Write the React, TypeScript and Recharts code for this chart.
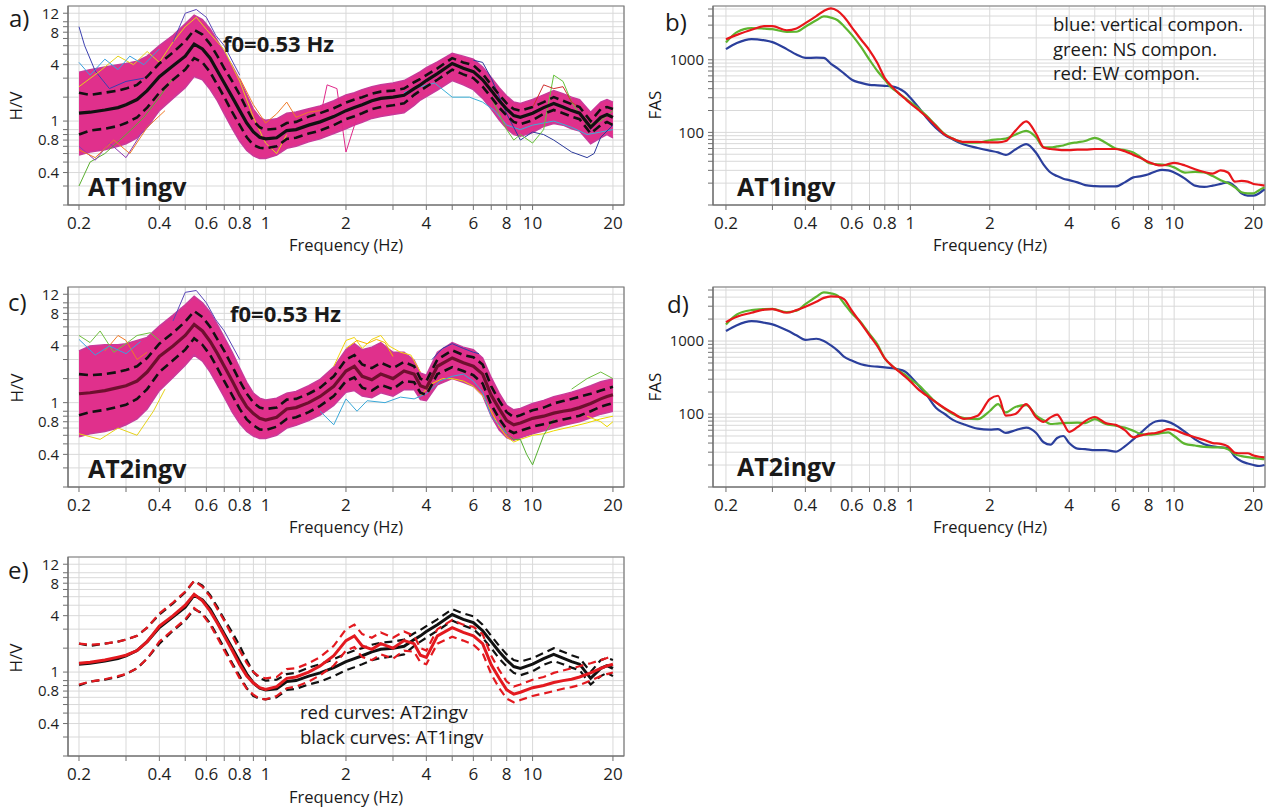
import React from 'react';
import { ComposedChart, Line, Area, XAxis, YAxis, CartesianGrid, ReferenceArea } from 'recharts';

// ---------- H/V data (frequency grid, Hz) ----------
const FREQ_HV = [0.2, 0.22, 0.25, 0.28, 0.3, 0.33, 0.36, 0.4, 0.45, 0.5,
  0.54, 0.58, 0.62, 0.66, 0.7, 0.75, 0.8, 0.85, 0.9, 0.95,
  1.0, 1.1, 1.2, 1.3, 1.45, 1.6, 1.8, 2.0, 2.15, 2.3,
  2.5, 2.7, 3.0, 3.3, 3.6, 3.8, 4.0, 4.4, 5.0, 5.5,
  6.0, 6.5, 7.0, 7.5, 8.0, 8.5, 9.0, 10, 11, 12,
  13, 14, 15, 16.5, 18, 19, 20];

// AT1ingv
const AT1_MEAN = [1.42, 1.45, 1.52, 1.6, 1.7, 1.9, 2.3, 3.1, 3.9, 4.8,
  6.2, 5.6, 4.6, 3.5, 2.7, 2.0, 1.5, 1.15, 0.95, 0.85,
  0.82, 0.84, 0.98, 1.0, 1.1, 1.18, 1.32, 1.5, 1.6, 1.7,
  1.85, 1.95, 2.0, 2.08, 2.4, 2.6, 2.85, 3.3, 4.1, 3.7,
  3.45, 2.9, 2.3, 1.85, 1.55, 1.35, 1.3, 1.42, 1.6, 1.75,
  1.62, 1.5, 1.42, 1.05, 1.3, 1.38, 1.3];
const AT1_UPPER = [2.2, 2.1, 2.2, 2.3, 2.4, 2.6, 3.1, 4.1, 5.2, 6.6,
  8.4, 7.6, 6.2, 4.8, 3.7, 2.8, 2.1, 1.55, 1.2, 1.05,
  1.0, 1.02, 1.15, 1.18, 1.32, 1.42, 1.58, 1.78, 1.9, 2.0,
  2.15, 2.25, 2.3, 2.4, 2.75, 2.95, 3.2, 3.7, 4.6, 4.2,
  3.95, 3.3, 2.6, 2.1, 1.75, 1.55, 1.5, 1.62, 1.8, 2.0,
  1.85, 1.72, 1.62, 1.2, 1.55, 1.62, 1.55];
const AT1_LOWER = [0.9, 0.98, 1.02, 1.08, 1.15, 1.3, 1.6, 2.2, 2.9, 3.6,
  4.6, 4.2, 3.4, 2.6, 2.0, 1.45, 1.1, 0.85, 0.72, 0.68,
  0.67, 0.7, 0.82, 0.84, 0.92, 0.98, 1.1, 1.25, 1.33, 1.42,
  1.55, 1.62, 1.68, 1.75, 2.1, 2.3, 2.5, 2.9, 3.6, 3.25,
  3.0, 2.5, 2.0, 1.6, 1.35, 1.18, 1.12, 1.22, 1.4, 1.52,
  1.42, 1.32, 1.25, 0.92, 1.1, 1.18, 1.1];
const AT1_BAND_HI = [3.4, 3.6, 3.8, 4.0, 4.1, 4.3, 4.8, 6.0, 7.5, 9.6,
  11.5, 10.5, 8.6, 6.7, 5.2, 3.9, 2.9, 2.1, 1.55, 1.3,
  1.22, 1.26, 1.42, 1.46, 1.56, 1.66, 1.85, 2.1, 2.2, 2.35,
  2.5, 2.6, 2.7, 2.85, 3.2, 3.45, 3.75, 4.25, 5.1, 4.8,
  4.5, 3.8, 3.05, 2.45, 2.05, 1.8, 1.75, 1.9, 2.1, 2.3,
  2.15, 2.0, 1.9, 1.45, 1.8, 1.9, 1.8];
const AT1_BAND_LO = [0.58, 0.62, 0.65, 0.7, 0.74, 0.84, 1.05, 1.5, 1.95, 2.45,
  3.1, 2.9, 2.35, 1.85, 1.4, 1.02, 0.78, 0.64, 0.57, 0.54,
  0.54, 0.58, 0.67, 0.7, 0.77, 0.82, 0.92, 1.02, 1.1, 1.17,
  1.27, 1.32, 1.38, 1.43, 1.68, 1.88, 2.02, 2.33, 2.85, 2.6,
  2.35, 1.95, 1.55, 1.23, 1.02, 0.9, 0.87, 0.94, 1.07, 1.14,
  1.1, 1.02, 0.97, 0.74, 0.84, 0.9, 0.84];

// AT2ingv
const AT2_MEAN = [1.45, 1.48, 1.55, 1.65, 1.72, 1.9, 2.3, 3.2, 4.0, 5.0,
  6.3, 5.5, 4.4, 3.4, 2.6, 1.9, 1.4, 1.1, 0.95, 0.86,
  0.83, 0.88, 1.05, 1.08, 1.2, 1.37, 1.7, 2.35, 2.6, 2.1,
  1.95, 2.2, 2.0, 2.35, 2.2, 1.72, 1.64, 2.6, 3.1, 2.8,
  2.6, 2.2, 1.4, 1.05, 0.82, 0.75, 0.78, 0.86, 0.9, 0.96,
  1.0, 1.03, 1.08, 1.18, 1.3, 1.37, 1.42];
const AT2_UPPER = [2.2, 2.15, 2.2, 2.3, 2.4, 2.6, 3.1, 4.2, 5.3, 6.7,
  8.4, 7.4, 6.0, 4.6, 3.6, 2.6, 1.9, 1.45, 1.2, 1.08,
  1.05, 1.08, 1.28, 1.3, 1.45, 1.65, 2.1, 3.0, 3.3, 2.7,
  2.5, 2.8, 2.5, 2.85, 2.6, 2.0, 1.9, 3.0, 3.65, 3.3,
  3.15, 2.7, 1.7, 1.25, 0.98, 0.88, 0.92, 1.02, 1.08, 1.18,
  1.24, 1.3, 1.36, 1.45, 1.55, 1.62, 1.68];
const AT2_LOWER = [0.92, 0.98, 1.03, 1.1, 1.15, 1.3, 1.6, 2.3, 2.95, 3.7,
  4.7, 4.1, 3.3, 2.5, 1.9, 1.4, 1.05, 0.84, 0.74, 0.68,
  0.67, 0.72, 0.85, 0.88, 0.98, 1.12, 1.38, 1.9, 2.05, 1.65,
  1.55, 1.75, 1.6, 1.9, 1.85, 1.48, 1.42, 2.2, 2.55, 2.35,
  2.15, 1.8, 1.15, 0.85, 0.68, 0.63, 0.66, 0.72, 0.76, 0.8,
  0.84, 0.87, 0.91, 1.0, 1.1, 1.15, 1.19];
const AT2_BAND_HI = [3.6, 4.0, 4.1, 4.1, 4.2, 4.5, 4.8, 6.1, 7.7, 9.6,
  11.5, 10.0, 8.2, 6.3, 4.8, 3.5, 2.5, 1.85, 1.47, 1.32,
  1.27, 1.32, 1.47, 1.52, 1.72, 1.97, 2.55, 3.7, 4.2, 3.7,
  3.9, 4.3, 3.5, 3.5, 2.95, 2.25, 2.15, 3.5, 4.3, 3.9,
  3.7, 3.1, 2.05, 1.47, 1.13, 1.03, 1.06, 1.18, 1.26, 1.36,
  1.43, 1.5, 1.58, 1.72, 1.87, 1.93, 1.98];
const AT2_BAND_LO = [0.58, 0.62, 0.65, 0.7, 0.75, 0.85, 1.05, 1.55, 2.05, 2.65,
  3.3, 2.9, 2.3, 1.75, 1.35, 0.98, 0.77, 0.65, 0.59, 0.56,
  0.56, 0.6, 0.7, 0.74, 0.82, 0.92, 1.13, 1.5, 1.55, 1.38,
  1.33, 1.48, 1.38, 1.58, 1.58, 1.28, 1.25, 1.75, 2.0, 1.85,
  1.7, 1.4, 0.9, 0.67, 0.57, 0.54, 0.57, 0.62, 0.66, 0.7,
  0.74, 0.77, 0.8, 0.87, 0.94, 0.97, 1.0];

// individual window curves standing out of the bundle
const AT1_OUTLIERS = [
  { color: '#3a3fb0', f: [0.2, 0.21, 0.23, 0.26, 0.3, 0.35], v: [9, 6, 3.5, 2.4, 2.8, 3.0] },
  { color: '#e6d21a', f: [0.2, 0.24, 0.28, 0.32, 0.36, 0.4, 0.45, 0.5, 0.55, 0.6, 0.7, 0.8, 0.9, 1.0, 1.1, 1.2], v: [2.5, 3.5, 4.8, 4.0, 5.3, 4.2, 6.5, 9, 11, 8.5, 5.5, 2.8, 1.3, 0.75, 0.6, 0.9] },
  { color: '#3ab0d8', f: [3.3, 3.8, 4.3, 5.0, 5.8, 6.5, 7.2, 8, 9, 10, 12, 14, 16, 18, 20], v: [2.2, 2.5, 2.7, 2.0, 2.0, 1.8, 1.5, 1.1, 1.0, 1.1, 1.2, 1.05, 0.9, 0.95, 1.0] },
  { color: '#2b3a9a', f: [6, 6.5, 7, 8, 9, 10, 11, 12, 14, 16, 17, 18, 20], v: [4.4, 4.2, 3.0, 1.4, 0.8, 0.95, 0.9, 0.8, 0.62, 0.55, 0.6, 0.85, 1.1] },
  { color: '#66c23a', f: [7, 8, 8.5, 9, 10, 11, 12, 13, 14, 16, 18, 20], v: [2.0, 1.0, 0.8, 0.9, 0.75, 1.0, 3.2, 2.8, 1.8, 1.1, 1.2, 1.5] },
  { color: '#e0288a', f: [1.2, 1.4, 1.55, 1.7, 1.85, 2.0, 2.2], v: [1.2, 1.0, 0.9, 2.6, 2.4, 0.62, 1.3] },
  { color: '#f07b28', f: [0.8, 0.9, 1.0, 1.1, 1.2, 1.3, 1.45, 1.6], v: [3.0, 1.7, 1.15, 1.4, 1.8, 1.3, 1.45, 1.5] },
  { color: '#5bb030', f: [0.2, 0.22, 0.25, 0.3, 0.35, 0.4, 0.45], v: [0.3, 0.5, 0.6, 0.9, 1.3, 2.0, 3.0] },
  { color: '#d03030', f: [10, 11, 12, 13, 14, 15], v: [1.6, 2.6, 2.4, 2.5, 1.8, 1.6] },
  { color: '#8e3ab0', f: [0.2, 0.23, 0.26, 0.3, 0.34, 0.38], v: [0.7, 0.52, 0.75, 0.55, 0.9, 1.2] },
  { color: '#3aa0e0', f: [0.2, 0.22, 0.25, 0.28, 0.31, 0.35, 0.4], v: [4.2, 3.2, 4.5, 3.6, 4.8, 4.0, 5.6] },
  { color: '#f07b28', f: [0.2, 0.23, 0.27, 0.31, 0.36, 0.42], v: [0.65, 0.55, 0.8, 0.6, 1.05, 1.5] },
  { color: '#5a48b8', f: [0.45, 0.5, 0.55, 0.6, 0.65, 0.7, 0.8], v: [6.5, 12, 13, 11, 7.5, 6.0, 3.2] },
];
const AT2_OUTLIERS = [
  { color: '#f2d40e', f: [1.8, 2.0, 2.15, 2.3, 2.5, 2.7, 2.9, 3.2, 3.5, 3.8], v: [2.6, 4.5, 4.8, 3.8, 4.6, 5.0, 4.0, 3.5, 3.3, 2.3] },
  { color: '#f5b800', f: [2.0, 2.2, 2.4, 2.6, 2.8, 3.0], v: [3.8, 4.5, 4.2, 4.6, 4.3, 3.2] },
  { color: '#ecd800', f: [3.8, 4.2, 4.6, 5.0, 5.5, 6, 6.5, 7, 7.5, 8, 8.5, 9, 10, 11, 12, 14, 16, 18, 20], v: [1.4, 1.8, 2.0, 2.0, 1.9, 1.7, 1.4, 1.0, 0.72, 0.58, 0.52, 0.55, 0.6, 0.62, 0.66, 0.72, 0.78, 0.85, 0.9] },
  { color: '#55b030', f: [7.5, 8, 8.5, 9, 9.5, 10, 11, 12], v: [0.9, 0.62, 0.55, 0.55, 0.4, 0.32, 0.6, 0.85] },
  { color: '#3aa8d8', f: [1.6, 1.8, 2.0, 2.2, 2.4, 2.8, 3.2, 3.6, 4.0, 4.5, 5, 5.5, 6, 6.5, 7, 8], v: [1.0, 0.75, 1.3, 1.0, 1.25, 1.2, 1.35, 1.3, 1.45, 1.9, 2.1, 2.2, 1.9, 1.5, 0.9, 0.62] },
  { color: '#3040a8', f: [4.2, 4.6, 5.0, 5.5, 6.0, 6.3], v: [3.0, 3.8, 4.2, 3.8, 3.5, 3.4] },
  { color: '#70c040', f: [0.2, 0.22, 0.24, 0.27, 0.3, 0.33, 0.37, 0.4], v: [5.0, 4.3, 5.5, 3.5, 4.2, 5.0, 5.3, 4.5] },
  { color: '#f07b28', f: [0.25, 0.28, 0.3, 0.33, 0.36], v: [3.6, 5.0, 4.5, 3.0, 3.5] },
  { color: '#70c040', f: [14, 16, 18, 20], v: [1.6, 2.0, 2.3, 2.0] },
  { color: '#ecd800', f: [16, 18, 19, 20], v: [0.9, 0.8, 0.72, 0.8] },
  { color: '#e6d21a', f: [0.2, 0.24, 0.28, 0.33, 0.38, 0.42], v: [0.62, 0.55, 0.7, 0.6, 1.0, 1.6] },
  { color: '#5a48b8', f: [0.45, 0.5, 0.55, 0.6, 0.65, 0.7, 0.8], v: [6.8, 12.5, 13, 10, 7, 5.5, 3.0] },
  { color: '#3aa0e0', f: [0.2, 0.23, 0.26, 0.3, 0.34], v: [4.6, 3.3, 4.0, 3.4, 4.4] },
];

// ---------- FAS data ----------
const FREQ_FAS = [0.2, 0.22, 0.25, 0.28, 0.3, 0.34, 0.37, 0.4, 0.44, 0.47,
  0.5, 0.53, 0.56, 0.6, 0.65, 0.7, 0.75, 0.8, 0.85, 0.9,
  0.95, 1.0, 1.08, 1.15, 1.25, 1.35, 1.45, 1.6, 1.8, 2.0,
  2.15, 2.3, 2.5, 2.75, 3.0, 3.2, 3.4, 3.6, 3.8, 4.0,
  4.3, 4.6, 5.0, 5.5, 6.0, 6.5, 7.0, 7.5, 8.0, 8.5,
  9.0, 9.5, 10, 11, 12, 13, 14, 15, 16, 17,
  18, 19, 20, 21, 22];

const AT1_FAS_VERT = [1400, 1700, 1930, 1850, 1750, 1400, 1180, 1060, 1070, 1060,
  880, 760, 650, 530, 480, 452, 445, 437, 430, 405,
  360, 300, 215, 160, 115, 92, 80, 68, 61, 56,
  53, 49, 58, 69, 52, 36, 28, 25, 23, 22,
  20.5, 18.8, 18.2, 18, 18, 20.5, 24, 25, 26.5, 29,
  30.5, 30, 28, 23, 18.5, 17.8, 18.5, 19.5, 20.5, 18,
  14.5, 13.5, 13.5, 14.5, 16.5];
const AT1_FAS_NS = [1730, 2400, 2730, 2680, 2640, 2420, 2430, 2850, 3500, 3950,
  3800, 3500, 2900, 2200, 1500, 1000, 700, 530, 410, 350,
  300, 260, 210, 170, 125, 95, 82, 73, 72, 78,
  80, 82, 93, 105, 85, 62, 62, 64, 66, 70,
  73, 76, 84, 72, 60, 57, 53, 45, 38, 36.5,
  36, 35, 33, 28, 28.5, 28, 25, 22, 20, 17.5,
  15, 14.5, 14.5, 16, 17.5];
const AT1_FAS_EW = [1920, 2200, 2590, 2900, 2900, 2550, 2700, 3200, 4000, 4700,
  5100, 4700, 3900, 2800, 1900, 1350, 900, 560, 430, 350,
  295, 250, 200, 165, 122, 93, 82, 74, 74, 73,
  73, 76, 105, 142, 95, 62, 59, 58, 57, 57,
  58, 58, 59, 59, 59, 55, 49, 44, 39, 36,
  35, 36.5, 38, 35, 31, 28.5, 27, 30, 28, 21,
  21.5, 21, 19.5, 19, 18.5];

const AT2_FAS_VERT = [1370, 1650, 1870, 1780, 1690, 1400, 1200, 1040, 1075, 1000,
  870, 740, 610, 540, 480, 455, 445, 435, 425, 410,
  385, 330, 240, 185, 122, 100, 83, 72, 63, 61,
  62, 55, 60, 65, 55, 41, 38, 47, 50, 40,
  33.5, 33, 32, 32, 30.5, 36, 45, 56, 69, 79,
  81, 78, 72, 57, 45, 38.5, 36, 35, 34, 26,
  22.5, 21, 20, 19.4, 20];
const AT2_FAS_NS = [1690, 2310, 2650, 2740, 2760, 2500, 2600, 3200, 4050, 4650,
  4500, 4200, 3300, 2400, 1800, 1250, 900, 580, 460, 395,
  350, 300, 245, 195, 145, 118, 100, 88, 85, 110,
  137, 105, 125, 132, 95, 82, 73, 74, 75, 75.5,
  76, 75, 85, 73, 69, 65, 59, 53, 52, 53,
  55, 56, 50, 39, 37, 35.5, 35, 35, 33, 28,
  26.5, 25.6, 25, 24.5, 24];
const AT2_FAS_EW = [1815, 2150, 2440, 2700, 2740, 2440, 2650, 2950, 3450, 3900,
  4100, 4050, 3750, 2600, 1750, 1200, 850, 580, 460, 390,
  330, 280, 212, 180, 145, 120, 103, 86, 95, 160,
  178, 95, 100, 137, 90, 78, 90, 98, 75, 57,
  66, 80, 91, 75, 71, 60, 48, 51, 54, 55,
  58, 62, 60.5, 53, 48, 44, 40, 39, 36, 29.5,
  29, 29, 27, 26, 25.5];

// ---------- ticks ----------
const X_TICKS = [0.2, 0.3, 0.4, 0.5, 0.6, 0.7, 0.8, 0.9, 1, 2, 3, 4, 5, 6, 7, 8, 9, 10, 20];
const X_TICK_LABELS = ['0.2', '', '0.4', '', '0.6', '', '0.8', '', '1', '2', '', '4', '', '6', '', '8', '', '10', '20'];
const HV_Y_TICKS = [0.2, 0.3, 0.4, 0.5, 0.6, 0.7, 0.8, 0.9, 1, 1.2, 2, 3, 4, 5, 6, 7, 8, 9, 10, 12];
const HV_Y_TICK_LABELS = ['', '', '0.4', '', '', '', '0.8', '', '', '1', '', '', '4', '', '', '', '8', '', '', '12'];
const FAS_Y_TICKS = [10, 20, 30, 40, 50, 60, 70, 80, 90, 100, 200, 300, 400, 500, 600, 700, 800, 900, 1000, 2000, 3000, 4000, 5000];
const FAS_Y_TICK_LABELS = ['', '', '', '', '', '', '', '', '', '100', '', '', '', '', '', '', '', '', '1000', '', '', '', ''];

const HV_X_DOMAIN = [0.1819, 22.0];
const FAS_X_DOMAIN = [0.1786, 22.1];
const HV_Y_DOMAIN = [0.2, 14];
const FAS_Y_DOMAIN = [10, 5500];

const C_MAGENTA = '#e0308c';
const C_BLUE = '#2b3f9c';
const C_GREEN = '#5db52f';
const C_RED = '#e8161b';
const C_RED_E = '#e3191f';

const hvRows = FREQ_HV.map((f, i) => ({
  f,
  at1m: AT1_MEAN[i], at1u: AT1_UPPER[i], at1l: AT1_LOWER[i], at1b: [AT1_BAND_LO[i], AT1_BAND_HI[i]],
  at2m: AT2_MEAN[i], at2u: AT2_UPPER[i], at2l: AT2_LOWER[i], at2b: [AT2_BAND_LO[i], AT2_BAND_HI[i]],
}));
const fasRows = FREQ_FAS.map((f, i) => ({
  f,
  v1: AT1_FAS_VERT[i], ns1: AT1_FAS_NS[i], ew1: AT1_FAS_EW[i],
  v2: AT2_FAS_VERT[i], ns2: AT2_FAS_NS[i], ew2: AT2_FAS_EW[i],
}));

const labelOf = (ticks: number[], labels: string[]) => (v: number) => {
  const i = ticks.indexOf(v);
  return i >= 0 ? labels[i] : '';
};

type PanelProps = {
  left: number; top: number; w: number; h: number; mt: number; mr: number; yw: number;
  data: any[]; xDomain: number[]; yDomain: number[]; yTicks: number[]; yLabels: string[];
  children: React.ReactNode;
};

function Panel(p: PanelProps) {
  return (
    <div style={{ position: 'absolute', left: p.left, top: p.top }}>
      <ComposedChart width={p.w} height={p.h} data={p.data} margin={{ top: p.mt, right: p.mr, bottom: 0, left: 0 }}>
        <CartesianGrid stroke="#d9d9d9" strokeWidth={1} />
        <XAxis dataKey="f" type="number" scale="log" domain={p.xDomain} allowDataOverflow
          ticks={X_TICKS} interval={0} tickFormatter={labelOf(X_TICKS, X_TICK_LABELS)}
          height={35} tickSize={5} tickMargin={7} stroke="#6f6f6f"
          tick={{ fontSize: 17, fill: '#1e1e1e' }} />
        <YAxis type="number" scale="log" domain={p.yDomain} allowDataOverflow
          ticks={p.yTicks} interval={0} tickFormatter={labelOf(p.yTicks, p.yLabels)}
          width={p.yw} tickSize={5} tickMargin={4} stroke="#6f6f6f"
          tick={{ fontSize: 15, fill: '#1e1e1e' }} />
        {p.children}
        <ReferenceArea x1={p.xDomain[0]} x2={p.xDomain[1]} y1={p.yDomain[0]} y2={p.yDomain[1]}
          fill="none" stroke="#7a7a7a" strokeWidth={1.2} ifOverflow="visible" />
      </ComposedChart>
    </div>
  );
}

const outlierLines = (list: { color: string; f: number[]; v: number[] }[], prefix: string) =>
  list.map((o, k) => (
    <Line key={prefix + k} data={o.f.map((f, i) => ({ f, v: o.v[i] }))} dataKey="v" type="linear"
      stroke={o.color} strokeWidth={1} dot={false} isAnimationActive={false} />
  ));

const hvSeries = (key: string, meanColor: string, outliers: any[]) => [
  ...outlierLines(outliers, key + 'o'),
  <Area key={key + 'b'} dataKey={key + 'b'} type="linear" fill={C_MAGENTA} fillOpacity={1}
    stroke="#c93a9a" strokeWidth={1.5} dot={false} isAnimationActive={false} />,
  <Line key={key + 'u'} dataKey={key + 'u'} type="linear" stroke="#111" strokeWidth={2.6}
    strokeDasharray="9 5" dot={false} isAnimationActive={false} />,
  <Line key={key + 'l'} dataKey={key + 'l'} type="linear" stroke="#111" strokeWidth={2.6}
    strokeDasharray="9 5" dot={false} isAnimationActive={false} />,
  <Line key={key + 'm'} dataKey={key + 'm'} type="linear" stroke={meanColor} strokeWidth={3.2}
    dot={false} isAnimationActive={false} />,
];

const fasSeries = (v: string, ns: string, ew: string) => [
  <Line key={v} dataKey={v} type="monotone" stroke={C_BLUE} strokeWidth={2.2} dot={false} isAnimationActive={false} />,
  <Line key={ns} dataKey={ns} type="monotone" stroke={C_GREEN} strokeWidth={2.2} dot={false} isAnimationActive={false} />,
  <Line key={ew} dataKey={ew} type="monotone" stroke={C_RED} strokeWidth={2.2} dot={false} isAnimationActive={false} />,
];

const compareSeries = [
  <Line key="k1u" dataKey="at1u" type="linear" stroke="#111" strokeWidth={2.2} strokeDasharray="8 5" dot={false} isAnimationActive={false} />,
  <Line key="k1l" dataKey="at1l" type="linear" stroke="#111" strokeWidth={2.2} strokeDasharray="8 5" dot={false} isAnimationActive={false} />,
  <Line key="k1m" dataKey="at1m" type="linear" stroke="#111" strokeWidth={3} dot={false} isAnimationActive={false} />,
  <Line key="r2u" dataKey="at2u" type="linear" stroke={C_RED_E} strokeWidth={2.2} strokeDasharray="8 5" dot={false} isAnimationActive={false} />,
  <Line key="r2l" dataKey="at2l" type="linear" stroke={C_RED_E} strokeWidth={2.2} strokeDasharray="8 5" dot={false} isAnimationActive={false} />,
  <Line key="r2m" dataKey="at2m" type="linear" stroke={C_RED_E} strokeWidth={3} dot={false} isAnimationActive={false} />,
];

function T(props: { x: number; y: number; s: number; b?: boolean; children: React.ReactNode; center?: boolean; rot?: boolean }) {
  const tr = props.rot ? 'translate(-50%,-50%) rotate(-90deg)' : props.center ? 'translate(-50%,-50%)' : 'translateY(-50%)';
  return (
    <div style={{
      position: 'absolute', left: props.x, top: props.y, fontSize: props.s, fontWeight: props.b ? 700 : 400,
      lineHeight: 1, whiteSpace: 'nowrap', transform: tr, color: '#1a1a1a',
    }}>{props.children}</div>
  );
}

export default function App() {
  return (
    <div style={{ position: 'absolute', left: 0, top: 0, width: 1272, height: 807, background: '#fff', fontFamily: '"Open Sans", "Noto Sans", sans-serif', overflow: 'hidden' }}>
      <Panel left={0} top={0} w={640} h={240} mt={6} mr={16} yw={68} data={hvRows}
        xDomain={HV_X_DOMAIN} yDomain={HV_Y_DOMAIN} yTicks={HV_Y_TICKS} yLabels={HV_Y_TICK_LABELS}>
        {hvSeries('at1', '#111', AT1_OUTLIERS)}
      </Panel>
      <Panel left={640} top={0} w={632} h={240} mt={6} mr={7} yw={73} data={fasRows}
        xDomain={FAS_X_DOMAIN} yDomain={FAS_Y_DOMAIN} yTicks={FAS_Y_TICKS} yLabels={FAS_Y_TICK_LABELS}>
        {fasSeries('v1', 'ns1', 'ew1')}
      </Panel>
      <Panel left={0} top={280} w={640} h={242} mt={7} mr={16} yw={68} data={hvRows}
        xDomain={HV_X_DOMAIN} yDomain={HV_Y_DOMAIN} yTicks={HV_Y_TICKS} yLabels={HV_Y_TICK_LABELS}>
        {hvSeries('at2', '#6e0f2e', AT2_OUTLIERS)}
      </Panel>
      <Panel left={640} top={280} w={632} h={242} mt={7} mr={7} yw={73} data={fasRows}
        xDomain={FAS_X_DOMAIN} yDomain={FAS_Y_DOMAIN} yTicks={FAS_Y_TICKS} yLabels={FAS_Y_TICK_LABELS}>
        {fasSeries('v2', 'ns2', 'ew2')}
      </Panel>
      <Panel left={0} top={550} w={640} h={241} mt={7} mr={16} yw={68} data={hvRows}
        xDomain={HV_X_DOMAIN} yDomain={HV_Y_DOMAIN} yTicks={HV_Y_TICKS} yLabels={HV_Y_TICK_LABELS}>
        {compareSeries}
      </Panel>

      {/* panel letters */}
      <T x={9} y={18} s={24}>a)</T>
      <T x={665} y={22} s={24}>b)</T>
      <T x={8} y={302} s={24}>c)</T>
      <T x={667} y={304} s={24}>d)</T>
      <T x={8} y={570} s={24}>e)</T>

      {/* axis titles */}
      <T x={15} y={106} s={17} rot>H/V</T>
      <T x={16} y={388} s={17} rot>H/V</T>
      <T x={15} y={658} s={17} rot>H/V</T>
      <T x={654} y={105} s={17} rot>FAS</T>
      <T x={654} y={387} s={17} rot>FAS</T>
      <T x={346} y={245} s={16.5} center>Frequency (Hz)</T>
      <T x={990} y={245} s={16.5} center>Frequency (Hz)</T>
      <T x={346} y={527} s={16.5} center>Frequency (Hz)</T>
      <T x={990} y={527} s={16.5} center>Frequency (Hz)</T>
      <T x={346} y={797} s={16.5} center>Frequency (Hz)</T>

      {/* annotations */}
      <T x={223} y={43} s={22} b>f0=0.53 Hz</T>
      <T x={230} y={313} s={22} b>f0=0.53 Hz</T>
      <T x={88} y={186} s={25} b>AT1ingv</T>
      <T x={737} y={186} s={25} b>AT1ingv</T>
      <T x={88} y={468} s={25} b>AT2ingv</T>
      <T x={737} y={466} s={25} b>AT2ingv</T>
      <T x={1053} y={24} s={18.5}>blue: vertical compon.</T>
      <T x={1053} y={48.5} s={18.5}>green: NS compon.</T>
      <T x={1053} y={73} s={18.5}>red: EW compon.</T>
      <T x={300} y={712} s={18.5}>red curves: AT2ingv</T>
      <T x={300} y={737} s={18.5}>black curves: AT1ingv</T>
    </div>
  );
}
